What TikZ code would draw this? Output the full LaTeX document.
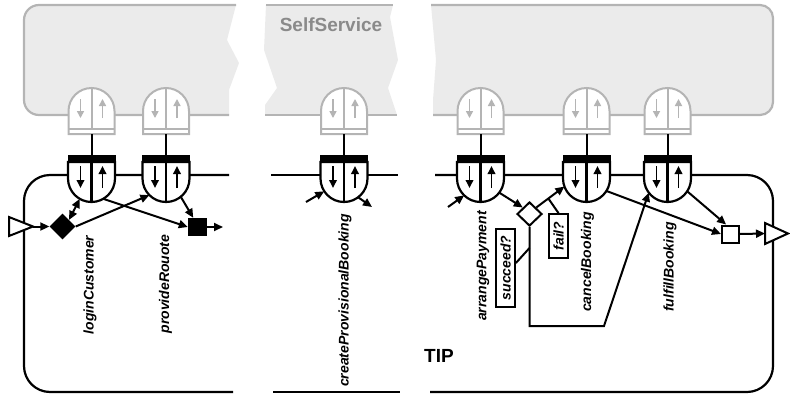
\documentclass[tikz,border=0pt]{standalone}
\usepackage{fontspec}
\setmainfont{Liberation Sans}
\usetikzlibrary{arrows.meta,shapes.geometric,calc}
\definecolor{ssfill}{HTML}{EBEBEB}
\definecolor{ssborder}{HTML}{B4B4B4}
\definecolor{sstext}{HTML}{8A8A8A}
\begin{document}
\begin{tikzpicture}[x=1pt,y=1pt,
  ln/.style={line width=2pt},
  conn/.style={line width=2pt,-{Triangle[length=9pt,width=8pt]}},
  dconn/.style={line width=2pt,{Triangle[length=9pt,width=8pt]}-{Triangle[length=9pt,width=8pt]}},
  boxline/.style={line width=2.2pt},
  ssline/.style={draw=ssborder,line width=2.2pt},
  lbl/.style={font=\bfseries\itshape\fontsize{14}{16}\selectfont,rotate=90,inner sep=0pt},
  cond/.style={lbl,draw,line width=1.8pt,minimum height=19pt},
  sqbox/.style={draw,line width=2pt,minimum width=17pt,minimum height=17pt,inner sep=0pt},
  iface/.pic={
    % gray (SelfService) interface
    \draw[ssborder,line width=2pt,fill=white] (-23,-134) -- (-23,-111) arc[start angle=180,end angle=0,radius=23] -- (23,-134) -- cycle;
    \draw[ssborder,line width=2pt] (-23,-129) -- (23,-129) (0,-88) -- (0,-129);
    \draw[ssborder,line width=1.6pt,-{Triangle[length=7pt,width=7pt]}] (-11,-99) -- (-11,-118);
    \draw[ssborder,line width=1.6pt,-{Triangle[length=7pt,width=7pt]}] (11,-118) -- (11,-99);
    % link
    \draw[line width=2pt] (0,-134) -- (0,-155);
    % black (TIP) interface
    \fill (-24,-154.5) rectangle (24,-162.5);
    \draw[line width=2.2pt,fill=white] (-23.5,-162) -- (-23.5,-178.5) arc[start angle=180,end angle=360,radius=23.5] -- (23.5,-162) -- cycle;
    \draw[line width=2.2pt] (0,-162) -- (0,-202);
    \draw[line width=1.8pt,-{Triangle[length=8pt,width=7.5pt]}] (-11,-166) -- (-11,-188);
    \draw[line width=1.8pt,-{Triangle[length=8pt,width=7.5pt]}] (11,-188) -- (11,-166);
    \coordinate (-c) at (0,-178.5);
  }
]
\useasboundingbox (0,0) rectangle (790,-394);

% ---------- SelfService box (broken in three pieces)
\fill[ssfill] (236,-5) -- (39,-5) arc[start angle=90,end angle=180,radius=15] -- (24,-100) arc[start angle=180,end angle=270,radius=15] -- (229,-115) -- (229,-90) -- (239,-63) -- (227,-40) -- cycle;
\draw[ssline] (236,-5) -- (39,-5) arc[start angle=90,end angle=180,radius=15] -- (24,-100) arc[start angle=180,end angle=270,radius=15] -- (229,-115);
\fill[ssfill] (266,-5) -- (393,-5) -- (390,-17) -- (398,-60) -- (388,-88) -- (397,-115) -- (265,-115) -- (265,-105) -- (277,-88) -- (264,-50) -- cycle;
\draw[ssline] (266,-5) -- (393,-5);
\draw[ssline] (265,-115) -- (397,-115);
\fill[ssfill] (431,-5) -- (760,-5) arc[start angle=90,end angle=0,radius=13] -- (773,-102) arc[start angle=0,end angle=-90,radius=13] -- (433,-115) -- (433,-100) -- (436,-60) -- cycle;
\draw[ssline] (431,-5) -- (760,-5) arc[start angle=90,end angle=0,radius=13] -- (773,-102) arc[start angle=0,end angle=-90,radius=13] -- (433,-115);
\node[font=\bfseries\fontsize{19}{21}\selectfont,text=sstext,inner sep=0pt] (ss) at (331,-25) {SelfService};

% ---------- TIP box (broken in three pieces)
\draw[boxline] (229,-175) -- (50,-175) arc[start angle=90,end angle=180,radius=26] -- (24,-366) arc[start angle=180,end angle=270,radius=26] -- (233,-392);
\draw[boxline] (271,-175) -- (398,-175);
\draw[boxline] (273,-392) -- (400,-392);
\draw[boxline] (435,-175) -- (747,-175) arc[start angle=90,end angle=0,radius=26] -- (773,-366) arc[start angle=0,end angle=-90,radius=26] -- (430,-392);
\node[font=\bfseries\fontsize{19}{21}\selectfont,inner sep=0pt] (tip) at (439,-356) {TIP};

% ---------- interfaces
\pic (lc) at (91.5,0) {iface};
\pic (pr) at (166,0) {iface};
\pic (cpb) at (344,0) {iface};
\pic (ap) at (480.5,0) {iface};
\pic (cb) at (586.5,0) {iface};
\pic (fb) at (667.5,0) {iface};

% attach points on the interface rims
\coordinate (lcin) at ($(lc-c)+(240:23.5)$);
\coordinate (lcout) at ($(lc-c)+(300:23.5)$);
\coordinate (prin) at ($(pr-c)+(225:23.5)$);
\coordinate (prout) at ($(pr-c)+(309:23.5)$);
\coordinate (cpbin) at ($(cpb-c)+(213:23.5)$);
\coordinate (cpbout) at ($(cpb-c)+(307:23.5)$);
\coordinate (apin) at ($(ap-c)+(226:23.5)$);
\coordinate (apout) at ($(ap-c)+(323:23.5)$);
\coordinate (cbin) at ($(cb-c)+(200:23.5)$);
\coordinate (cbout) at ($(cb-c)+(328:23.5)$);
\coordinate (fbin) at ($(fb-c)+(217:23.5)$);
\coordinate (fbout) at ($(fb-c)+(327:23.5)$);

% ---------- start / end triangles
\draw[line width=2pt,fill=white] (9,-217) -- (33,-226.5) -- (9,-236) -- cycle;
\coordinate (tinA) at (33,-226.5);
\draw[line width=2pt,fill=white] (765,-223) -- (788,-233.5) -- (765,-244) -- cycle;
\coordinate (toutB) at (765,-233.5);

% ---------- left part
\node[diamond,fill=black,minimum width=26pt,minimum height=26pt,inner sep=0pt] (d1) at (62.5,-226.5) {};
\node[fill=black,minimum width=19pt,minimum height=18pt,inner sep=0pt] (s1) at (197.5,-227) {};
\coordinate (o1) at (223,-227);
\draw[conn] (tinA) -- (d1.west);
\draw[dconn] (d1.north east) -- (lcin);
\draw[conn] (d1.east) -- (prin);
\draw[conn] (lcout) -- (s1.west);
\draw[conn] (prout) -- (s1.115);
\draw[conn] (s1.east) -- (o1);

% ---------- middle part
\coordinate (ci) at (306,-202);
\coordinate (co) at (372,-207);
\draw[conn] (ci) -- (cpbin);
\draw[conn] (cpbout) -- (co);

% ---------- right part
\coordinate (ai) at (448,-207);
\node[diamond,draw,fill=white,line width=2pt,minimum width=25pt,minimum height=24pt,inner sep=0pt] (d2) at (529.5,-214) {};
\node[sqbox,fill=white] (s2) at (730.5,-234) {};
\draw[conn] (ai) -- (apin);
\draw[conn] (apout) -- (d2.north west);
\draw[conn] (d2.north east) -- (cbin);
\coordinate (k1) at (529.5,-326);
\coordinate (k2) at (604,-326);
\draw[line width=2pt,-{Triangle[length=9pt,width=8pt]}] (d2.south) -- (k1) -- (k2) -- (fbin);
\draw[conn] (cbout) -- (s2.west);
\draw[conn] (fbout) -- (s2.115);
\draw[conn] (s2.east) -- (toutB);

\node[cond,minimum width=44pt] (fail) at (558.5,-236) {fail?};
\node[cond,minimum width=78pt] (succ) at (505.5,-268) {succeed?};
\coordinate (fp) at ($(d2.north east)!0.43!(cbin)$);
\coordinate (sp) at (529.5,-248);
\draw[ln] (fp) -- (fail.east);
\draw[ln] ($(succ.south)+(0,5)$) -- (sp);

% ---------- labels
\node[lbl] (t1) at (90,-285) {loginCustomer};
\node[lbl] (t2) at (165.5,-284) {provideRouote};
\node[lbl] (t3) at (345,-300.5) {createProvisionalBooking};
\node[lbl] (t4) at (483,-266) {arrangePayment};
\node[lbl] (t5) at (587.5,-262) {cancelBooking};
\node[lbl] (t6) at (670,-267) {fulfillBooking};
\end{tikzpicture}
\end{document}
